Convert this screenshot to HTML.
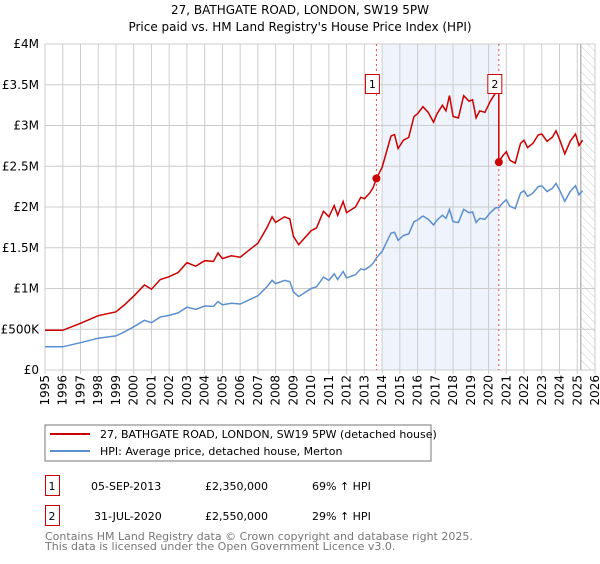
<!DOCTYPE html>
<html><head><meta charset="utf-8"><style>
body{margin:0;background:#fff;font-family:"DejaVu Sans","Liberation Sans",sans-serif;}
svg text{font-family:"DejaVu Sans","Liberation Sans",sans-serif;}
</style></head><body>
<svg id="c" width="600" height="560" xmlns="http://www.w3.org/2000/svg">
<defs><pattern id="hatch" width="6" height="6" patternUnits="userSpaceOnUse" patternTransform="rotate(-45)"><line x1="0" y1="0" x2="0" y2="6" stroke="#ccc" stroke-width="1"/></pattern></defs>
<text x="300" y="14" text-anchor="middle" font-size="12">27, BATHGATE ROAD, LONDON, SW19 5PW</text>
<text x="300" y="31" text-anchor="middle" font-size="12">Price paid vs. HM Land Registry's House Price Index (HPI)</text>
<g id="plot"></g>
<rect x="45" y="425" width="386" height="36" fill="#fff" stroke="#777"/>
<line x1="50" y1="434" x2="90" y2="434" stroke="#cc0000" stroke-width="2"/>
<text x="100" y="438" font-size="11">27, BATHGATE ROAD, LONDON, SW19 5PW (detached house)</text>
<line x1="50" y1="451" x2="90" y2="451" stroke="#5b8fd0" stroke-width="2"/>
<text x="100" y="455" font-size="11">HPI: Average price, detached house, Merton</text>
<g>
<rect x="45.5" y="475.5" width="14" height="20" fill="#fff" stroke="#cc0000"/>
<text x="52" y="490" text-anchor="middle" font-size="11">1</text>
<text x="91" y="490" font-size="11">05-SEP-2013</text>
<text x="205" y="490" font-size="11">£2,350,000</text>
<text x="312" y="490" font-size="11">69% ↑ HPI</text></g>
<g>
<rect x="45.5" y="505.5" width="14" height="20" fill="#fff" stroke="#cc0000"/>
<text x="52" y="520" text-anchor="middle" font-size="11">2</text>
<text x="94" y="520" font-size="11">31-JUL-2020</text>
<text x="205" y="520" font-size="11">£2,550,000</text>
<text x="312" y="520" font-size="11">29% ↑ HPI</text></g>
<text x="45" y="540" font-size="11" fill="#777">Contains HM Land Registry data © Crown copyright and database right 2025.</text>
<text x="45" y="550" font-size="11" fill="#777">This data is licensed under the Open Government Licence v3.0.</text>
</svg>
<script>
const hpiYears=[1995,1996,1997,1998,1999,1999.5,2000,2000.6,2001,2001.5,2002,2002.5,2003,2003.5,2004,2004.5,2004.75,2005,2005.5,2006,2006.5,2007,2007.5,2007.8,2008,2008.5,2008.8,2009,2009.3,2010,2010.3,2010.7,2011,2011.3,2011.5,2011.8,2012,2012.5,2012.8,2013,2013.3,2013.5,2013.68,2014,2014.5,2014.7,2014.9,2015.2,2015.5,2015.8,2016,2016.3,2016.6,2016.9,2017.1,2017.4,2017.6,2017.8,2018,2018.3,2018.6,2018.9,2019.1,2019.3,2019.5,2019.8,2020.1,2020.4,2020.58,2020.8,2021,2021.2,2021.5,2021.8,2022,2022.2,2022.5,2022.8,2023,2023.3,2023.6,2023.8,2024,2024.3,2024.6,2024.9,2025.1,2025.3];
const hpiValues=[285,285,335,390,418,470,530,610,580,650,670,700,770,745,785,780,840,800,820,810,860,910,1020,1100,1060,1100,1085,960,900,1000,1020,1140,1100,1180,1110,1210,1130,1170,1240,1230,1270,1310,1375,1455,1680,1690,1590,1650,1670,1820,1840,1890,1850,1780,1840,1900,1860,1970,1820,1810,1970,1930,1940,1810,1860,1850,1930,1990,1990,2050,2090,2010,1980,2170,2200,2130,2170,2250,2260,2190,2230,2290,2210,2070,2190,2260,2150,2200];
const saleYears=[2013.68,2020.58];
const salePrices=[2350,2550];
const saleLabels=["1","2"];
const yTicks=[0,500,1000,1500,2000,2500,3000,3500,4000];
const yTickLabels=["£0","£500K","£1M","£1.5M","£2M","£2.5M","£3M","£3.5M","£4M"];
const xTicks=[];for(let y=1995;y<=2026;y++)xTicks.push(y);

const NS="http://www.w3.org/2000/svg";
const X0=45,X1=595,Y0=370,Y1=44;
const xs=v=>X0+(v-1995)/(2026-1995)*(X1-X0);
const ys=v=>Y0-v/4000*(Y0-Y1);
const g=document.getElementById('plot');
function mk(t,a,p){const e=document.createElementNS(NS,t);for(const k in a)e.setAttribute(k,a[k]);(p||g).appendChild(e);return e;}
function interp(yr){for(let i=1;i<hpiYears.length;i++){if(yr<=hpiYears[i]){const t=(yr-hpiYears[i-1])/(hpiYears[i]-hpiYears[i-1]);return hpiValues[i-1]+t*(hpiValues[i]-hpiValues[i-1]);}}return hpiValues[hpiValues.length-1];}

const shade=mk('rect',{x:xs(2014),y:Y1,width:xs(saleYears[1])-xs(2014),height:Y0-Y1,fill:'#eef3fc'});


const hat=mk('rect',{x:xs(2025.2),y:Y1,width:X1-xs(2025.2),height:Y0-Y1,fill:'url(#hatch)'});


mk('line',{x1:xs(2025.2),y1:Y1,x2:xs(2025.2),y2:Y0,stroke:'#999'});

yTicks.forEach((v,i)=>{
  mk('line',{x1:X0,x2:X1,y1:ys(v),y2:ys(v),stroke:'#ccc'});
  const t=mk('text',{x:39,y:ys(v)+4,'text-anchor':'end','font-size':'12'});t.textContent=yTickLabels[i];
  
  
});
xTicks.forEach(v=>{
  mk('line',{x1:xs(v),x2:xs(v),y1:Y1,y2:Y0+4,stroke:'#ccc'});
  const t=mk('text',{x:0,y:0,'font-size':'12','text-anchor':'end',transform:`translate(${xs(v)+4},${Y0+5}) rotate(-90)`});t.textContent=v;
  
  
});
mk('rect',{x:X0,y:Y1,width:X1-X0,height:Y0-Y1,fill:'none',stroke:'#ccc'});

saleYears.forEach(yr=>mk('line',{x1:xs(yr),x2:xs(yr),y1:Y1,y2:Y0,stroke:'#e05050','stroke-dasharray':'2,3','stroke-width':'1'}));

let d='';hpiYears.forEach((yr,i)=>{d+=(i?'L':'M')+xs(yr).toFixed(1)+','+ys(hpiValues[i]).toFixed(1);});
const hl=mk('path',{d:d,fill:'none',stroke:'#5b8fd0','stroke-width':'1.5'});



const r1=salePrices[0]/interp(saleYears[0]);
const r2=salePrices[1]/interp(saleYears[1]);
let pd='';let first=true;
hpiYears.forEach((yr,i)=>{
  if(yr<saleYears[1]){pd+=(first?'M':'L')+xs(yr).toFixed(1)+','+ys(hpiValues[i]*r1).toFixed(1);first=false;}
});
pd+='L'+xs(saleYears[1]).toFixed(1)+','+ys(interp(saleYears[1])*r1).toFixed(1);
pd+='L'+xs(saleYears[1]).toFixed(1)+','+ys(salePrices[1]).toFixed(1);
hpiYears.forEach((yr,i)=>{if(yr>saleYears[1])pd+='L'+xs(yr).toFixed(1)+','+ys(hpiValues[i]*r2).toFixed(1);});
const pl=mk('path',{d:pd,fill:'none',stroke:'#cc0000','stroke-width':'1.5'});



saleYears.forEach((yr,i)=>{
  const c=mk('circle',{cx:xs(yr),cy:ys(salePrices[i]),r:4,fill:'#cc0000'});
  
  
  const bx=xs(yr)-4;
  const b=mk('rect',{x:bx-7,y:74.5,width:14,height:19,fill:'#fff',stroke:'#cc0000'});
  
  
  const t=mk('text',{x:bx,y:88,'text-anchor':'middle','font-size':'11'});t.textContent=saleLabels[i];
  
  
});
</script>
</body></html>
